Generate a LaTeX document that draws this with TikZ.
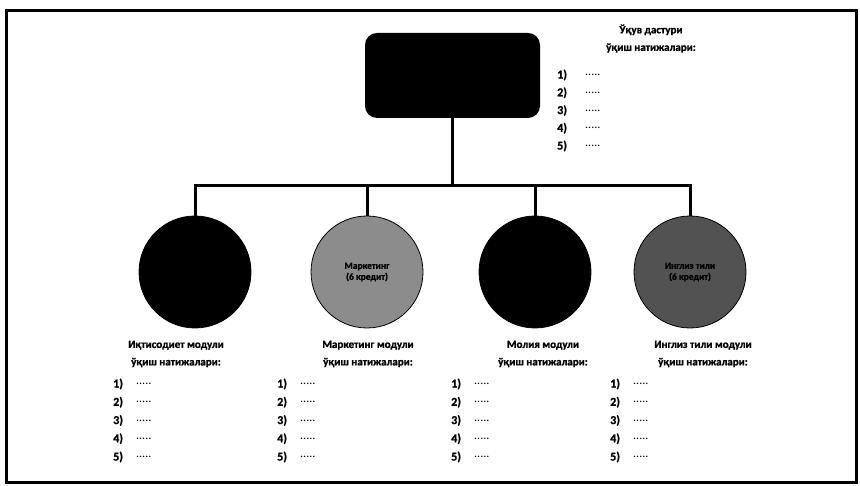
\documentclass[tikz,border=0pt]{standalone}
\usepackage{fontspec}
\setmainfont{Carlito}[BoldFeatures={FakeBold=1.2}]
\usetikzlibrary{positioning,calc}
\begin{document}
\begin{tikzpicture}[x=1pt,y=1pt]
    \tikzstyle{head}=[font=\bfseries\fontsize{11}{17.5}\selectfont,inner sep=0,align=center]
    \tikzstyle{num}=[font=\bfseries\fontsize{12}{13}\selectfont,inner sep=0,anchor=west]
    \tikzstyle{gap}=[font=\fontsize{12}{13}\selectfont,inner sep=0,anchor=west]
    \tikzstyle{module}=[circle,minimum size=112,inner sep=0,draw=black,line width=0.8,
                        font=\bfseries\fontsize{9.5}{11}\selectfont,align=center]
    \tikzstyle{link}=[line width=3]
    \useasboundingbox (0,0) rectangle (860,486);
    \draw[line width=3] (6.5,475.5) rectangle (856.5,3.5);

    % program and modules
    \node[fill=black,rounded corners=12,minimum width=175,minimum height=85] (prog) at (452.5,410.5) {};
    \coordinate (bar) at (452.5,300);
    \node[module,fill=black] (econ) at (195,214) {};
    \node[module,fill=black!45] (mark) at (367,214) {Маркетинг\\(6 кредит)};
    \node[module,fill=black!68] (eng) at (690,214) {Инглиз тили\\(6 кредит)};
    \node[module,fill=black] (fin) at (535,214) {};

    \draw[link] (prog.south) -- (bar);
    \draw[link] (econ.north) -- (econ.north |- bar) -- (eng.north |- bar) -- (eng.north);
    \draw[link] (mark.north) -- (mark.north |- bar);
    \draw[link] (fin.north) -- (fin.north |- bar);

    % outcomes
    \node[head] (progtxt) at (651,447.5) {Ўқув дастури\\ўқиш натижалари:};
    \node[head] (econtxt) at (176,132) {Иқтисодиет модули\\ўқиш натижалари:};
    \node[head] (marktxt) at (368,132) {Маркетинг модули\\ўқиш натижалари:};
    \node[head] (fintxt) at (543,132) {Молия модули\\ўқиш натижалари:};
    \node[head] (engtxt) at (703,132) {Инглиз тили модули\\ўқиш натижалари:};
    \foreach \i in {1,...,5} {
        \node[num] (p\i) at (557,{411-17.75*(\i-1)}) {\i)};
        \node[gap] at (585,{411-17.75*(\i-1)}) {.....};
        \foreach \name/\x in {e/113,m/277,f/451,g/610} {
            \node[num] (\name\i) at (\x,{102-18.25*(\i-1)}) {\i)};
            \node[gap] at (\x+23,{102-18.25*(\i-1)}) {.....};
        }
    }
\end{tikzpicture}
\end{document}
